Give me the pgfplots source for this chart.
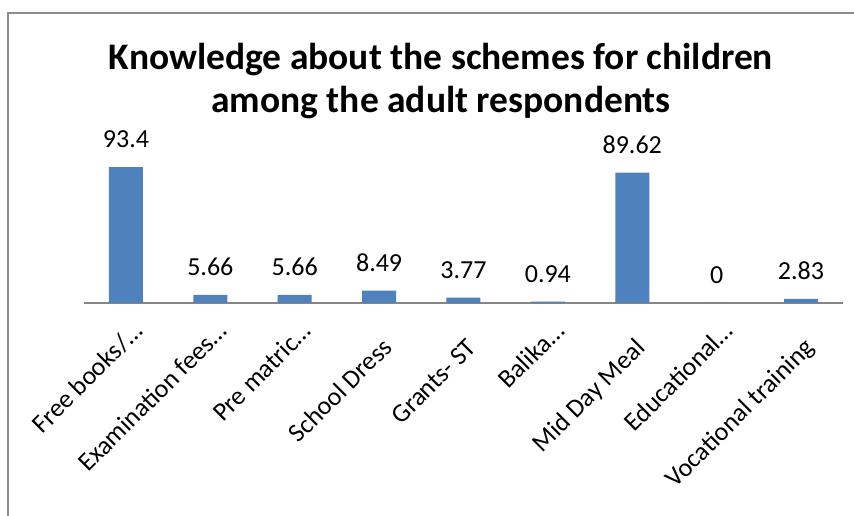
\documentclass[border=0pt]{standalone}
\usepackage{pgfplots}
\pgfplotsset{compat=1.18}
\usepackage{fontspec}
\setmainfont{Carlito}
\definecolor{barblue}{HTML}{4F81BD}
\definecolor{framegray}{HTML}{8C8C8C}
\definecolor{axisgray}{HTML}{868686}
\newcommand{\trunc}[1]{\raisebox{8.8pt}{#1}\hspace*{-13.8pt}}
\begin{document}
\begin{tikzpicture}
\useasboundingbox (0pt,0pt) rectangle (854pt,516pt);
\fill[white] (0pt,0pt) rectangle (854pt,516pt);
\draw[framegray, line width=2pt] (8pt,0pt) -- (8pt,503pt) -- (855pt,503pt);
\node[font=\bfseries\fontsize{37.5}{42}\selectfont, anchor=base] at (441pt,446pt) {Knowledge about the schemes for children};
\node[font=\bfseries\fontsize{37.5}{42}\selectfont, anchor=base] at (441pt,403pt) {among the adult respondents};
\begin{axis}[
  at={(83.8pt,213pt)}, anchor=south west,
  scale only axis, width=759.4pt, height=145.6pt,
  xmin=-0.5, xmax=8.5, ymin=0, ymax=100,
  axis x line=bottom, axis y line=none,
  x axis line style={-, draw=axisgray, line width=1.5pt},
  xtick=data, major tick length=0pt,
  xticklabels={\trunc{Free books/…}, \trunc{Examination fees…}, \trunc{Pre matric…}, School Dress, Grants- ST, \trunc{Balika…}, Mid Day Meal, \trunc{Educational…}, Vocational training},
  xticklabel style={rotate=45, anchor=base east, font=\fontsize{26}{30}\selectfont, inner sep=0pt, xshift=-22.3pt, yshift=-42.8pt},
  ybar, bar width=34pt,
  point meta=explicit symbolic,
  nodes near coords,
  nodes near coords style={font=\fontsize{26}{30}\selectfont, anchor=south, inner sep=0pt, yshift=19pt, text=black},
  clip=false,
]
\addplot[fill=barblue, draw=none] coordinates {
  (0,93.4) [93.4]
  (1,5.66) [5.66]
  (2,5.66) [5.66]
  (3,8.49) [8.49]
  (4,3.77) [3.77]
  (5,0.94) [0.94]
  (6,89.62) [89.62]
  (7,0) [0]
  (8,2.83) [2.83]
};
\end{axis}
\end{tikzpicture}
\end{document}
